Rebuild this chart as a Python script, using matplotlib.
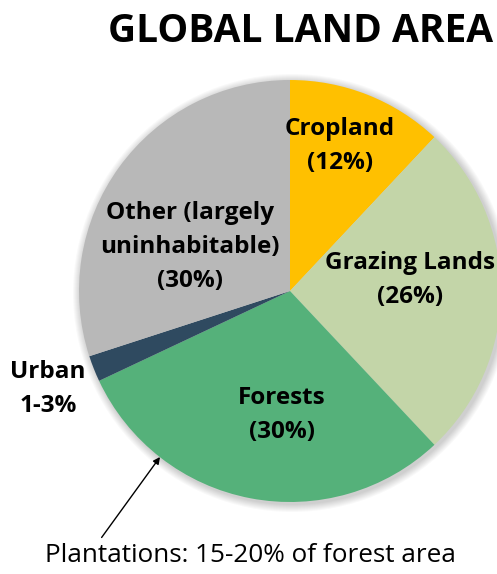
import matplotlib
matplotlib.use("Agg")
import matplotlib.pyplot as plt
from matplotlib.patches import Circle

# land use shares, percent of global land area
categories = ["Cropland", "Grazing Lands", "Forests", "Urban", "Other"]
shares = [12, 26, 30, 2, 30]
colors = ["#FFC000", "#C3D5A8", "#55B17A", "#2F4A60", "#B8B8B8"]
slice_labels = ["Cropland\n(12%)", "Grazing Lands\n(26%)", "Forests\n(30%)", "",
                "Other (largely\nuninhabitable)\n(30%)"]

plt.rcParams["font.family"] = ["Open Sans", "DejaVu Sans"]

fig = plt.figure(figsize=(4.97, 5.74), dpi=100)
ax = fig.add_axes([0, 0, 1, 1])

cx, cy, r = 290, 283, 211

# soft drop shadow behind the pie
for k in range(8, 0, -1):
    ax.add_patch(Circle((cx + 2, cy - 2), r + k, color="black", alpha=0.025, lw=0, zorder=0))

ax.pie(shares, colors=colors, startangle=90, counterclock=False,
       center=(cx, cy), radius=r, frame=True,
       wedgeprops=dict(linewidth=0, zorder=1))

ax.set_xlim(0, 497)
ax.set_ylim(0, 574)
ax.axis("off")

label_pos = [(340, 146), (410, 280), (282, 415), None, (190, 247)]
for text, pos in zip(slice_labels, label_pos):
    if pos is None:
        continue
    ax.text(pos[0], 574 - pos[1], text, ha="center", va="center",
            fontsize=17.5, fontweight="bold", linespacing=1.55, zorder=3)

ax.text(48, 574 - 389, "Urban\n1-3%", ha="center", va="center",
        fontsize=17.5, fontweight="bold", linespacing=1.55)

ax.text(301, 574 - 31, "GLOBAL LAND AREA", ha="center", va="center",
        fontsize=28, fontweight="bold")

ax.annotate("Plantations: 15-20% of forest area", xy=(160, 574 - 457),
            xytext=(250, 574 - 555), ha="center", va="center", fontsize=18.8,
            arrowprops=dict(arrowstyle="-|>", color="black", lw=1,
                            shrinkA=2, shrinkB=0, mutation_scale=10,
                            relpos=(0.13, 1.0)))

fig.savefig("out.png", dpi=100)
